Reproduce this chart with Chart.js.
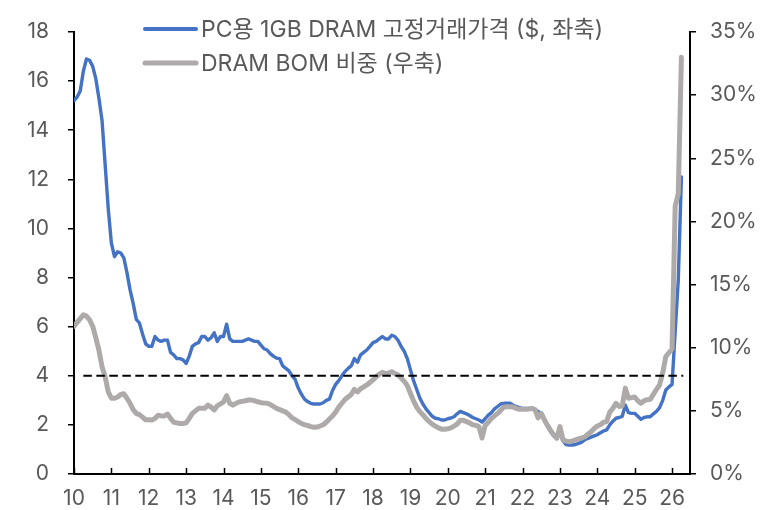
<!DOCTYPE html>
<html><head><meta charset="utf-8">
<script src="https://cdn.jsdelivr.net/npm/chart.js@4"></script>
<style>html,body{margin:0;padding:0;background:#fff;}#wrap{width:771px;height:510px;}</style>
</head><body><div id="wrap"><canvas id="c" width="771" height="510"></canvas></div>
<script>
const startYear = 2010;
const yearTickLabels = ['10','11','12','13','14','15','16','17','18','19','20','21','22','23','24','25','26'];
const priceLabel = 'PC용 1GB DRAM 고정거래가격 ($, 좌축)';
const bomLabel = 'DRAM BOM 비중 (우축)';
// monthly, Jan 2010 .. Apr 2026 (left axis, $)
const priceValues = [
  15.2,15.35,15.6,16.4,16.9,16.85,16.6,16.1,15.3,14.4,12.6,10.8,
  9.4,8.85,9.05,9.0,8.8,8.2,7.5,6.95,6.3,6.15,5.7,5.3,
  5.2,5.2,5.6,5.45,5.4,5.45,5.45,4.95,4.85,4.7,4.7,4.65,
  4.5,4.8,5.2,5.3,5.35,5.6,5.6,5.45,5.55,5.75,5.4,5.6,
  5.6,6.1,5.5,5.4,5.4,5.4,5.4,5.45,5.5,5.45,5.4,5.4,
  5.25,5.1,5.05,4.9,4.8,4.72,4.7,4.4,4.3,4.2,4.0,3.85,
  3.5,3.25,3.05,2.95,2.88,2.85,2.85,2.85,2.9,3.0,3.05,3.4,
  3.65,3.8,4.0,4.17,4.3,4.4,4.7,4.55,4.85,4.95,5.05,5.2,
  5.35,5.4,5.5,5.6,5.5,5.5,5.65,5.6,5.45,5.2,5.0,4.7,
  4.25,3.8,3.45,3.1,2.85,2.65,2.5,2.35,2.27,2.25,2.2,2.2,
  2.25,2.28,2.33,2.45,2.55,2.5,2.45,2.38,2.3,2.25,2.2,2.12,
  2.25,2.4,2.5,2.65,2.75,2.85,2.88,2.88,2.88,2.8,2.75,2.7,
  2.67,2.67,2.67,2.65,2.62,2.55,2.47,2.2,1.95,1.72,1.55,1.45,
  1.7,1.35,1.2,1.18,1.18,1.2,1.25,1.3,1.4,1.45,1.5,1.55,
  1.6,1.68,1.75,1.8,2.0,2.15,2.27,2.3,2.35,2.8,2.5,2.47,
  2.47,2.35,2.23,2.3,2.33,2.33,2.45,2.55,2.7,3.0,3.42,3.55,
  3.65,5.8,7.9,12.1
];
// monthly, Jan 2010 .. Apr 2026 (right axis, %)
const bomShareValues = [
  11.7,12.0,12.3,12.6,12.5,12.2,11.7,10.8,9.8,8.5,7.7,6.5,
  6.0,6.0,6.1,6.3,6.35,6.0,5.6,5.1,4.8,4.7,4.5,4.3,
  4.3,4.28,4.4,4.65,4.6,4.6,4.75,4.4,4.1,4.05,4.0,4.0,
  4.05,4.4,4.8,5.0,5.2,5.2,5.2,5.46,5.3,5.07,5.4,5.55,
  5.7,6.2,5.6,5.45,5.6,5.7,5.75,5.8,5.86,5.85,5.8,5.72,
  5.65,5.62,5.6,5.5,5.35,5.2,5.1,5.0,4.9,4.7,4.45,4.3,
  4.15,4.0,3.9,3.85,3.75,3.7,3.72,3.8,3.9,4.1,4.35,4.6,
  4.9,5.3,5.6,5.9,6.1,6.3,6.7,6.5,6.75,6.9,7.05,7.25,
  7.45,7.7,7.9,8.05,7.95,8.0,8.1,7.95,7.85,7.6,7.35,7.0,
  6.4,5.8,5.3,4.95,4.7,4.4,4.15,3.95,3.8,3.65,3.55,3.55,
  3.58,3.65,3.8,3.95,4.25,4.25,4.15,4.05,3.9,3.85,3.75,2.85,
  3.85,4.1,4.4,4.6,4.8,5.05,5.3,5.33,5.33,5.3,5.2,5.12,
  5.12,5.12,5.15,5.2,5.1,4.45,4.8,4.3,3.85,3.45,3.1,2.83,
  3.75,2.7,2.6,2.55,2.62,2.7,2.78,2.85,2.95,3.15,3.35,3.6,
  3.8,3.9,4.1,4.15,4.9,5.2,5.6,5.35,5.4,6.8,6.0,6.05,
  6.1,5.8,5.6,5.8,5.88,5.91,6.3,6.7,7.05,8.0,9.3,9.6,
  9.9,21.2,22.2,33.0
];
const thresholdValue = 4;
const thresholdSpan = [2010.25, 2026.3];

const toPoints = vals => vals.map((v, i) => ({ x: startYear + i / 12, y: v }));

const FONT = "Inter, 'Noto Sans CJK KR', sans-serif";
const TXT = '#595959';

const xTickPlugin = {
  id: 'xTicksInside',
  afterDatasetsDraw(chart) {
    const s = chart.scales.x, ctx = chart.ctx, b = chart.chartArea.bottom;
    ctx.save();
    ctx.strokeStyle = '#000'; ctx.lineWidth = 1.5;
    s.ticks.forEach(t => {
      const px = Math.round(s.getPixelForValue(t.value)) + 0.5;
      ctx.beginPath(); ctx.moveTo(px, b); ctx.lineTo(px, b - 6); ctx.stroke();
    });
    ctx.restore();
  }
};
const legendPlugin = {
  id: 'customLegend',
  afterDraw(chart) {
    const ctx = chart.ctx;
    const rows = [chart.data.datasets[0], chart.data.datasets[1]];
    const ys = [29, 63];
    ctx.save();
    rows.forEach((ds, i) => {
      ctx.strokeStyle = ds.borderColor;
      ctx.lineWidth = i === 0 ? 4 : 5;
      ctx.lineCap = 'round';
      ctx.beginPath(); ctx.moveTo(145, ys[i]); ctx.lineTo(196, ys[i]); ctx.stroke();
      ctx.fillStyle = TXT;
      ctx.font = "23px " + FONT;
      ctx.textBaseline = 'middle';
      ctx.textAlign = 'left';
      ctx.fillText(ds.label, 201, ys[i] + 1);
    });
    ctx.restore();
  }
};

new Chart(document.getElementById('c'), {
  type: 'line',
  data: {
    datasets: [
      { label: priceLabel, data: toPoints(priceValues), yAxisID: 'y', borderColor: '#4472C4', borderWidth: 3.4, pointRadius: 0, tension: 0, borderJoinStyle: 'round', borderCapStyle: 'round', order: 2 },
      { label: bomLabel, data: toPoints(bomShareValues), yAxisID: 'y1', borderColor: '#AEAAAA', borderWidth: 5, pointRadius: 0, tension: 0, borderJoinStyle: 'round', borderCapStyle: 'round', order: 1 },
      { label: 'threshold', data: thresholdSpan.map(x => ({ x, y: thresholdValue })), yAxisID: 'y', borderColor: '#000', borderWidth: 2, borderDash: [8.5, 4.5], pointRadius: 0, order: 0 }
    ]
  },
  options: {
    responsive: false, animation: false, devicePixelRatio: 1,
    layout: { padding: { top: 32, left: 0, right: 0, bottom: 0 } },
    plugins: { legend: { display: false }, tooltip: { enabled: false } },
    scales: {
      x: {
        type: 'linear', min: 2010, max: 2026.48,
        afterFit: s => { s.height = 36; },
        grid: { display: false, drawTicks: false },
        border: { display: true, color: '#000', width: 2 },
        ticks: { stepSize: 1, includeBounds: false, autoSkip: false, maxRotation: 0, padding: 12,
          color: TXT, font: { family: FONT, size: 21 },
          callback: v => yearTickLabels[Math.round(v) - startYear] }
      },
      y: {
        position: 'left', min: 0, max: 18,
        afterFit: s => { s.width = 74; },
        grid: { drawOnChartArea: false, drawTicks: true, tickLength: 6, color: '#000', lineWidth: 1.5 },
        border: { display: true, color: '#000', width: 2 },
        ticks: { stepSize: 2, padding: 19, color: TXT, font: { family: FONT, size: 21 } }
      },
      y1: {
        position: 'right', min: 0, max: 35,
        afterFit: s => { s.width = 81; },
        grid: { drawOnChartArea: false, drawTicks: true, tickLength: 6, color: '#000', lineWidth: 1.5 },
        border: { display: true, color: '#000', width: 2 },
        ticks: { stepSize: 5, padding: 14, color: TXT, font: { family: FONT, size: 21 }, callback: v => v + '%' }
      }
    }
  },
  plugins: [xTickPlugin, legendPlugin]
});
</script></body></html>
